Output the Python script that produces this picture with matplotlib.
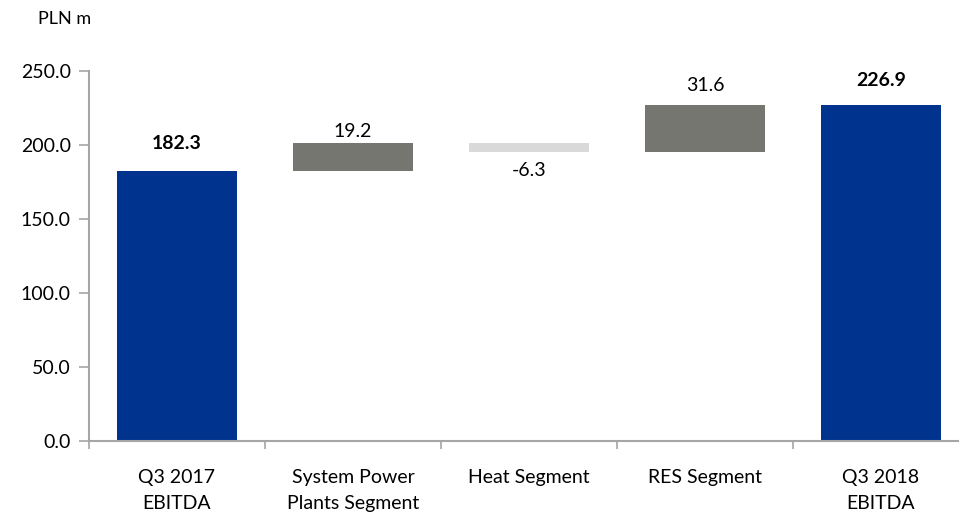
import matplotlib
matplotlib.use("Agg")
import matplotlib.pyplot as plt
import numpy as np

categories = ["Q3 2017\nEBITDA", "System Power\nPlants Segment", "Heat Segment", "RES Segment", "Q3 2018\nEBITDA"]
values = [182.3, 19.2, -6.3, 31.6, 226.9]
labels = ["182.3", "19.2", "-6.3", "31.6", "226.9"]
kinds = ["total", "delta", "delta", "delta", "total"]
yticks = [0, 50, 100, 150, 200, 250]

# label placement (pixel offset of the label centre from the bar end)
label_offsets_px = [28, 11, 18, 20, 25]

plt.rcParams['font.family'] = ['Lato', 'DejaVu Sans']

fig = plt.figure(figsize=(9.59, 5.15), dpi=100)
W, H = 959, 515
ax = fig.add_axes([89 / W, 74 / H, 880 / W, 370 / H])

navy = "#00338D"
dark = "#767671"
light = "#D9D9D9"

x = np.arange(len(categories))
run = 0.0
for i, (v, k) in enumerate(zip(values, kinds)):
    if k == "total":
        bottom, height, col = 0, v, navy
        run = v
    else:
        if v >= 0:
            bottom, height, col = run, v, dark
        else:
            bottom, height, col = run + v, -v, light
        run += v
    ax.bar(x[i], height, bottom=bottom, width=0.68, color=col, zorder=2)
    top = bottom + height
    off = label_offsets_px[i] * 0.72
    weight = "bold" if k == "total" else "normal"
    if v >= 0:
        ax.annotate(labels[i], (x[i], top), xytext=(0, off), textcoords="offset points",
                    ha="center", va="center", fontsize=14, fontweight=weight)
    else:
        ax.annotate(labels[i], (x[i], bottom), xytext=(0, -off), textcoords="offset points",
                    ha="center", va="center", fontsize=14, fontweight=weight)

ax.set_xlim(-0.5, len(categories) - 0.5)
ax.set_ylim(0, 250)
ax.set_yticks(yticks)
ax.set_yticklabels([f"{t:.1f}" for t in yticks], fontsize=14)
ax.set_xticks(np.arange(len(categories) + 1) - 0.5)
ax.set_xticklabels([])
ax.set_xticks(x, minor=True)
ax.set_xticklabels(categories, minor=True, fontsize=14, linespacing=1.65)
ax.tick_params(axis="x", which="minor", length=0, pad=20)
ax.tick_params(axis="x", which="major", length=6, color="#A6A6A6", width=1.2)
ax.tick_params(axis="y", length=7, color="#A6A6A6", width=1.2, pad=6)

for s in ["top", "right"]:
    ax.spines[s].set_visible(False)
for s in ["left", "bottom"]:
    ax.spines[s].set_color("#A6A6A6")
    ax.spines[s].set_linewidth(1.5)

fig.text(38 / W, 1 - 19 / H, "PLN m", fontsize=13, va="center", ha="left")

fig.savefig("out.png", dpi=100)
